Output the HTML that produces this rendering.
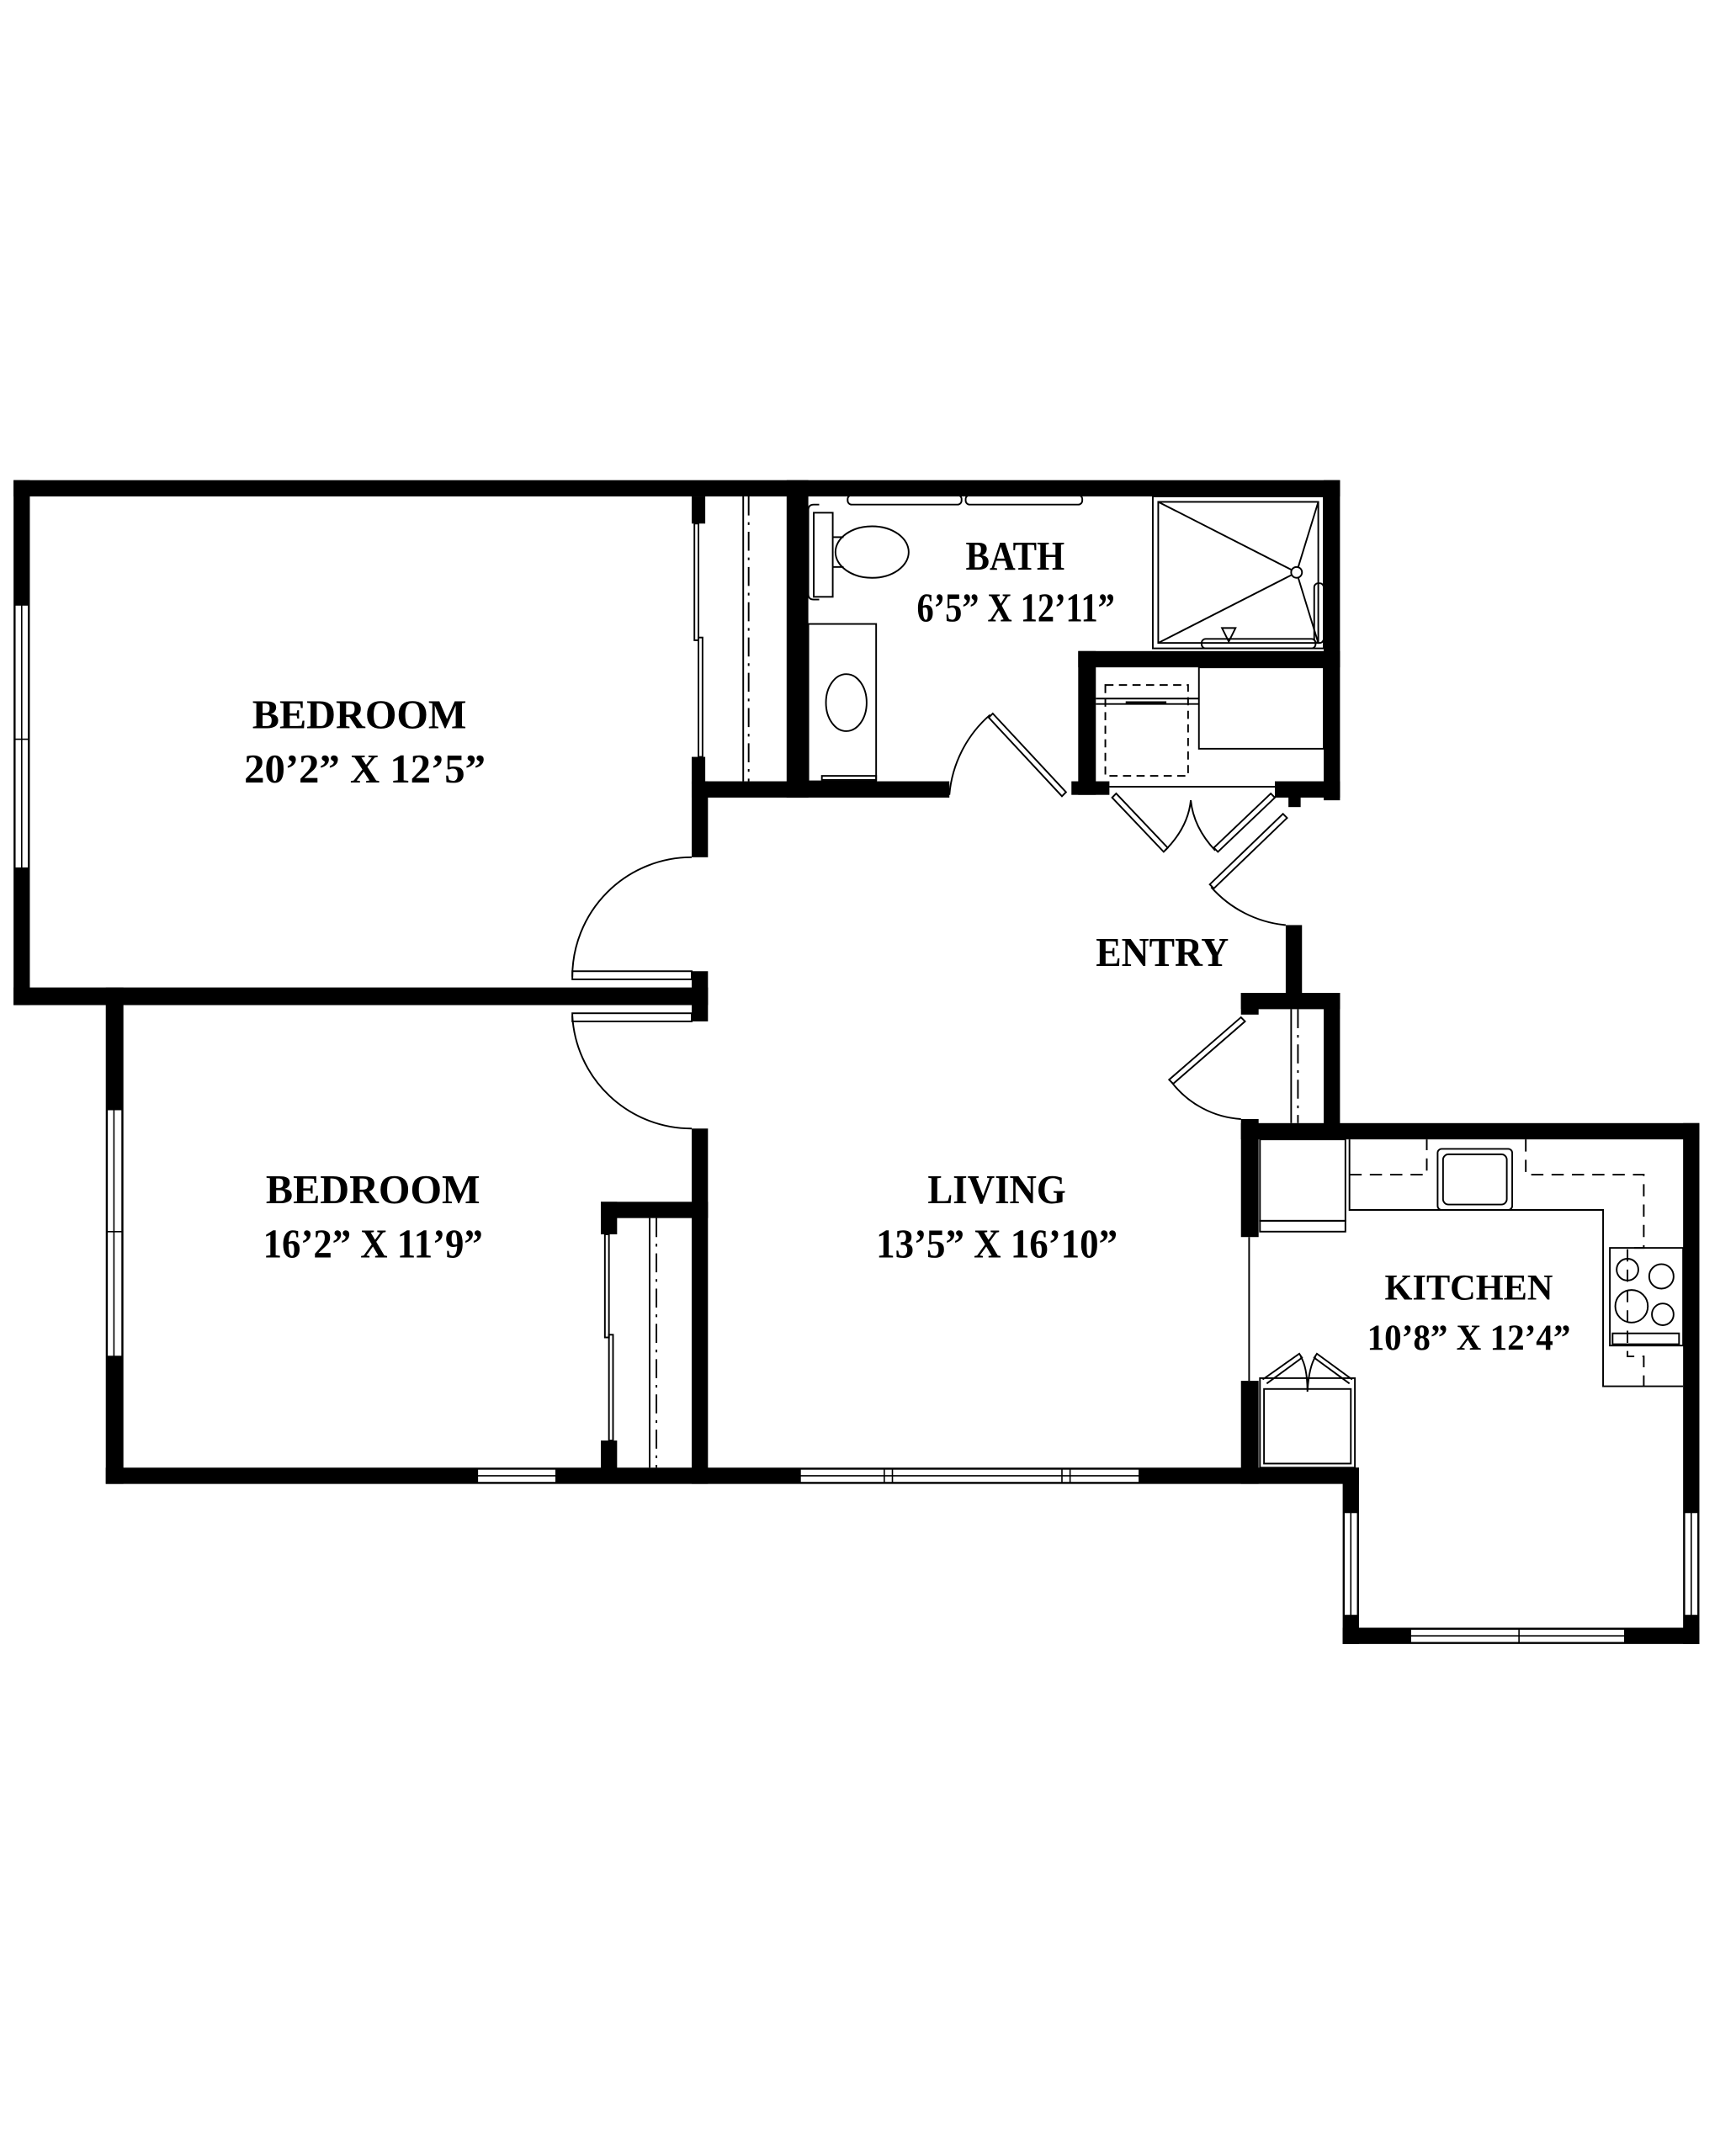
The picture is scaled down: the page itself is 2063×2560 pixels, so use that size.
<!DOCTYPE html>
<html><head><meta charset="utf-8"><style>html,body{margin:0;padding:0;background:#fff}svg{display:block}</style></head>
<body>
<svg width="2063" height="2560" viewBox="0 0 1280 1588" preserveAspectRatio="none" xmlns="http://www.w3.org/2000/svg">
<rect width="1280" height="1588" fill="#fff"/>
<g fill="#000">
<!-- top wall -->
<rect x="10" y="354" width="978" height="12"/>
<!-- bedroom1 left wall -->
<rect x="10" y="354" width="12" height="387"/>
<!-- wall between bedrooms -->
<rect x="10" y="728" width="512" height="13"/>
<!-- bedroom2 left wall -->
<rect x="78" y="728" width="13" height="366"/>
<!-- bottom wall -->
<rect x="78" y="1082" width="924" height="12"/>
<!-- living left wall -->
<rect x="510" y="576" width="12" height="56"/>
<rect x="510" y="832" width="12" height="262"/>
<rect x="510" y="716" width="12" height="37"/>
<!-- closet bedroom1 -->
<rect x="510" y="366" width="10" height="20"/>
<rect x="510" y="558" width="10" height="20"/>
<rect x="510" y="576" width="86" height="12"/>
<!-- bath left wall -->
<rect x="580" y="354" width="16" height="234"/>
<!-- bath bottom wall -->
<rect x="580" y="576" width="120" height="12"/>
<!-- utility closet -->
<rect x="795" y="480" width="193" height="12"/>
<rect x="795" y="480" width="13" height="106"/>
<rect x="790" y="576" width="28" height="10"/>
<rect x="976" y="354" width="12" height="236"/>
<rect x="940" y="576" width="48" height="12"/>
<rect x="950" y="586" width="9" height="9"/>
<!-- entry wall -->
<rect x="948" y="682" width="12" height="56"/>
<rect x="915" y="732" width="73" height="12"/>
<rect x="976" y="732" width="12" height="108"/>
<rect x="915" y="732" width="13" height="16"/>
<rect x="915" y="825" width="13" height="87"/>
<rect x="915" y="1018" width="13" height="76"/>
<!-- kitchen walls -->
<rect x="915" y="828" width="338" height="12"/>
<rect x="1241" y="828" width="12" height="384"/>
<rect x="990" y="1082" width="12" height="130"/>
<rect x="990" y="1200" width="263" height="12"/>
<!-- bedroom2 closet -->
<rect x="443" y="886" width="79" height="12"/>
<rect x="443" y="886" width="12" height="24"/>
<rect x="443" y="1062" width="12" height="22"/>
</g>
<g fill="#fff" stroke="#000" stroke-width="1">
<!-- windows -->
<rect x="11" y="446" width="10" height="194"/><line x1="16" y1="446" x2="16" y2="640"/><line x1="11" y1="545" x2="21" y2="545"/>
<rect x="79" y="818" width="11" height="182"/><line x1="84" y1="818" x2="84" y2="1000"/><line x1="79" y1="908" x2="90" y2="908"/>
<rect x="352" y="1083" width="58" height="10"/><line x1="352" y1="1088" x2="410" y2="1088"/>
<rect x="590" y="1083" width="250" height="10"/><line x1="590" y1="1088" x2="840" y2="1088"/><line x1="652" y1="1083" x2="652" y2="1093"/><line x1="658" y1="1083" x2="658" y2="1093"/><line x1="783" y1="1083" x2="783" y2="1093"/><line x1="789" y1="1083" x2="789" y2="1093"/>
<rect x="991" y="1115" width="10" height="76"/><line x1="996" y1="1115" x2="996" y2="1191"/>
<rect x="1242" y="1115" width="10" height="76"/><line x1="1247" y1="1115" x2="1247" y2="1191"/>
<rect x="1040" y="1201" width="158" height="10"/><line x1="1040" y1="1206" x2="1198" y2="1206"/><line x1="1120" y1="1201" x2="1120" y2="1211"/>
</g>
<g fill="none" stroke="#000" stroke-width="1.2">
<!-- closet sliding doors bedroom1 -->
<rect x="512" y="386" width="3" height="86"/><rect x="515" y="470" width="3" height="88"/>
<line x1="548" y1="366" x2="548" y2="576"/><line x1="552" y1="366" x2="552" y2="576" stroke-dasharray="14 5 2 5"/>
<!-- bedroom doors -->
<rect x="422" y="716" width="88" height="6"/>
<path d="M510 632 A 88 88 0 0 0 422 720"/>
<rect x="422" y="747" width="88" height="6"/>
<path d="M422 749 A 88 88 0 0 0 510 832"/>
<!-- bedroom2 closet -->
<rect x="446" y="910" width="3" height="76"/><rect x="449" y="984" width="3" height="78"/>
<line x1="479" y1="898" x2="479" y2="1082"/><line x1="484" y1="898" x2="484" y2="1082" stroke-dasharray="14 5 2 5"/>
<!-- toilet -->
<path d="M604 372 h-4 q-4 0 -4 4 v62 q0 4 4 4 h4"/>
<rect x="600" y="378" width="14" height="62"/>
<line x1="614" y1="396" x2="622" y2="396"/><line x1="614" y1="418" x2="622" y2="418"/>
<ellipse cx="643" cy="407" rx="27" ry="19"/>
<rect x="625" y="365" width="84" height="7" rx="3"/><rect x="712" y="365" width="86" height="7" rx="3"/>
<!-- vanity -->
<rect x="596" y="460" width="50" height="116"/>
<ellipse cx="624" cy="518" rx="15" ry="21"/>
<rect x="606" y="572" width="40" height="3"/>
<!-- shower -->
<rect x="850" y="366" width="126" height="112"/>
<rect x="854" y="370" width="118" height="104"/>
<path d="M854 370 L956 422 L854 474 M972 370 L956 422 L972 474"/>
<circle cx="956" cy="422" r="4" fill="#fff"/>
<path d="M901 463 h10 l-5 10 z"/>
<rect x="886" y="471" width="84" height="7" rx="3"/>
<rect x="969" y="430" width="7" height="44" rx="3"/>
<!-- bath door -->
<path d="M786 584 L732 526 L729 529 L783 587 Z"/>
<path d="M730 527 A 88 88 0 0 0 700 586"/>
<!-- utility closet -->
<rect x="884" y="492" width="92" height="60"/>
<line x1="808" y1="515" x2="884" y2="515"/><line x1="808" y1="519" x2="884" y2="519"/>
<rect x="815" y="505" width="61" height="67" stroke-dasharray="6 4"/>
<line x1="830" y1="518" x2="860" y2="518" stroke-width="2"/>
<line x1="818" y1="580" x2="940" y2="580"/>
<path d="M820 588 L858 628 L861 625 L823 585 Z"/>
<path d="M940 588 L898 628 L895 625 L937 585 Z"/>
<path d="M859 627 Q 876 610 878 590 Q 880 610 896 627"/>
<!-- entry door -->
<path d="M946 600 L892 652 L895 655 L949 603 Z"/>
<path d="M893 654 A 84 84 0 0 0 948 682"/>
<!-- coat closet -->
<line x1="952" y1="744" x2="952" y2="828"/><line x1="957" y1="744" x2="957" y2="828" stroke-dasharray="14 5 2 5"/>
<path d="M915 750 L862 796 L865 799 L918 753 Z"/>
<path d="M864 798 A 70 70 0 0 0 915 825"/>
<!-- kitchen opening line -->
<line x1="921" y1="912" x2="921" y2="1018"/>
<!-- fridge -->
<rect x="929" y="840" width="63" height="60"/><rect x="929" y="900" width="63" height="8"/>
<!-- counter -->
<path d="M995 840 V892 H1182 V1022 H1241"/>
<rect x="1060" y="847" width="55" height="45" rx="3"/><rect x="1064" y="851" width="47" height="37" rx="4"/>
<path d="M995 866 H1052 V840 M1125 840 V866 H1212 V920 H1200 V1000 H1212 V1022" stroke-dasharray="9 6"/>
<!-- range -->
<rect x="1187" y="920" width="54" height="72"/>
<circle cx="1200" cy="936" r="8"/><circle cx="1225" cy="941" r="9"/><circle cx="1203" cy="963" r="12"/><circle cx="1226" cy="969" r="8"/>
<rect x="1189" y="983" width="49" height="8"/>
<!-- pantry -->
<rect x="929" y="1016" width="70" height="66"/><rect x="932" y="1024" width="64" height="55"/>
<path d="M931 1017 L958 998 L960 1001 L934 1020"/>
<path d="M997 1017 L971 998 L969 1001 L995 1020"/>
<path d="M959 1000 Q 964 1008 964 1026 Q 965 1008 970 1000"/>
</g>
<g font-family="'Liberation Serif', serif" font-weight="bold" font-size="30" fill="#000" text-anchor="start">
<text x="186" y="537" textLength="158" lengthAdjust="spacingAndGlyphs">BEDROOM</text>
<text x="180" y="577" textLength="178" lengthAdjust="spacingAndGlyphs">20’2” X 12’5”</text>
<text x="712" y="420" textLength="73" lengthAdjust="spacingAndGlyphs">BATH</text>
<text x="676" y="458" textLength="146" lengthAdjust="spacingAndGlyphs">6’5” X 12’11”</text>
<text x="808" y="712" textLength="98" lengthAdjust="spacingAndGlyphs">ENTRY</text>
<text x="196" y="887" textLength="158" lengthAdjust="spacingAndGlyphs">BEDROOM</text>
<text x="194" y="927" textLength="162" lengthAdjust="spacingAndGlyphs">16’2” X 11’9”</text>
<text x="684" y="887" textLength="102" lengthAdjust="spacingAndGlyphs">LIVING</text>
<text x="646" y="927" textLength="178" lengthAdjust="spacingAndGlyphs">13’5” X 16’10”</text>
<text x="1021" y="958" textLength="124" lengthAdjust="spacingAndGlyphs" font-size="27">KITCHEN</text>
<text x="1008" y="995" textLength="150" lengthAdjust="spacingAndGlyphs" font-size="27">10’8” X 12’4”</text>
</g>
</svg>
</body></html>
